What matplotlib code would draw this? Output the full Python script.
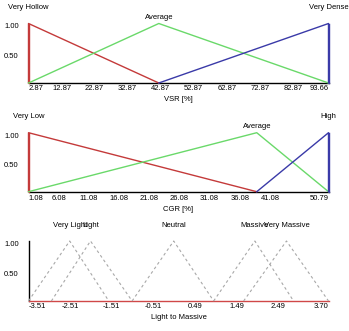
import matplotlib
matplotlib.use("Agg")
import matplotlib.pyplot as plt

plt.rcParams['font.family'] = ['Liberation Sans', 'DejaVu Sans']

# ---------------- data ----------------
vsr_ticks = [2.87, 12.87, 22.87, 32.87, 42.87, 52.87, 62.87, 72.87, 82.87, 93.66]
vsr_names = ["Very Hollow", "Average", "Very Dense"]
vsr_left = [2.87, 2.87, 42.3]
vsr_peak = [2.87, 42.3, 93.66]
vsr_right = [42.3, 93.66, 93.66]

cgr_ticks = [1.08, 6.08, 11.08, 16.08, 21.08, 26.08, 31.08, 36.08, 41.08, 50.79]
cgr_names = ["Very Low", "Average", "High"]
cgr_left = [1.08, 1.08, 38.9]
cgr_peak = [1.08, 38.9, 50.79]
cgr_right = [38.9, 50.79, 50.79]

ltm_ticks = [-3.51, -2.51, -1.51, -0.51, 0.49, 1.49, 2.49, 3.70]
ltm_names = ["Very Light", "Light", "Neutral", "Massive", "Very Massive"]
ltm_left = [-3.51, -2.96, -1.02, 0.94, 1.66]
ltm_peak = [-2.52, -2.02, -0.02, 1.93, 2.69]
ltm_right = [-1.58, -1.02, 0.94, 2.86, 3.70]

y_ticks = [0.5, 1.0]
y_tick_labels = ["0.50", "1.00"]

# ---------------- layout ----------------
W, H = 349, 331
fig = plt.figure(figsize=(W / 100, H / 100), dpi=100)
FS = 5.5

def make_axes(top_px, bottom_px, left_px=28.5, right_px=328.5):
    return fig.add_axes([left_px / W, (H - bottom_px) / H,
                         (right_px - left_px) / W, (bottom_px - top_px) / H])

def style_axes(ax, ticks, xlim, xlabel, xlab_pad):
    ax.set_xlim(*xlim)
    ax.set_ylim(0, 1)
    for s in ["top", "right"]:
        ax.spines[s].set_visible(False)
    ax.spines["bottom"].set_linewidth(1.0)
    ax.spines["bottom"].set_color("black")
    ax.set_xticks(ticks)
    ax.set_xticklabels([f"{t:.2f}" for t in ticks], fontsize=FS)
    labs = ax.get_xticklabels()
    labs[0].set_ha("left")
    labs[-1].set_ha("right")
    ax.tick_params(axis="x", length=0, pad=xlab_pad)
    ax.set_yticks(y_ticks)
    ax.set_yticklabels(y_tick_labels, fontsize=FS, va="top")
    ax.tick_params(axis="y", length=0, pad=7)
    ax.set_xlabel(xlabel, fontsize=FS, labelpad=3)
    ax.patch.set_visible(False)

colors3 = ["#c43a3a", "#6ad96a", "#3a3aa8"]

def draw_tri(ax, lefts, peaks, rights, names, colors, label_y, ls="-", lw=1.0):
    for i in range(len(names)):
        ax.plot([lefts[i], peaks[i], rights[i]], [0, 1, 0], color=colors[i],
                lw=lw, ls=ls, clip_on=False, zorder=3)
        ax.text(peaks[i], label_y[i], names[i], ha="center", va="center",
                fontsize=FS, clip_on=False)
        if lefts[i] == peaks[i]:
            ax.plot([lefts[i], lefts[i]], [0, 1], color=colors[i], lw=lw,
                    clip_on=False, zorder=3)
        if rights[i] == peaks[i]:
            ax.plot([rights[i], rights[i]], [0, 1], color=colors[i], lw=lw,
                    clip_on=False, zorder=3)

# Panel 1: VSR
ax1 = make_axes(23.5, 83)
style_axes(ax1, vsr_ticks, (vsr_ticks[0], vsr_ticks[-1]), "VSR [%]", 1.5)
ax1.spines["left"].set_visible(False)
draw_tri(ax1, vsr_left, vsr_peak, vsr_right, vsr_names, colors3,
         [1.27, 1.10, 1.27])

# Panel 2: CGR
ax2 = make_axes(132.7, 191.7)
style_axes(ax2, cgr_ticks, (cgr_ticks[0], cgr_ticks[-1]), "CGR [%]", 2.5)
ax2.spines["left"].set_visible(False)
draw_tri(ax2, cgr_left, cgr_peak, cgr_right, cgr_names, colors3,
         [1.27, 1.10, 1.27])

# Panel 3: Light to Massive
ax3 = make_axes(241, 301)
style_axes(ax3, ltm_ticks, (ltm_ticks[0], ltm_ticks[-1]), "Light to Massive", 1.5)
ax3.spines["left"].set_linewidth(1.0)
ax3.spines["left"].set_color("black")
ax3.spines["bottom"].set_color("#d04848")
draw_tri(ax3, ltm_left, ltm_peak, ltm_right, ltm_names,
         ["#a8a8a8"] * 5, [1.26] * 5, ls=(0, (2.5, 2.5)), lw=0.8)

fig.savefig("out.png", dpi=100)
